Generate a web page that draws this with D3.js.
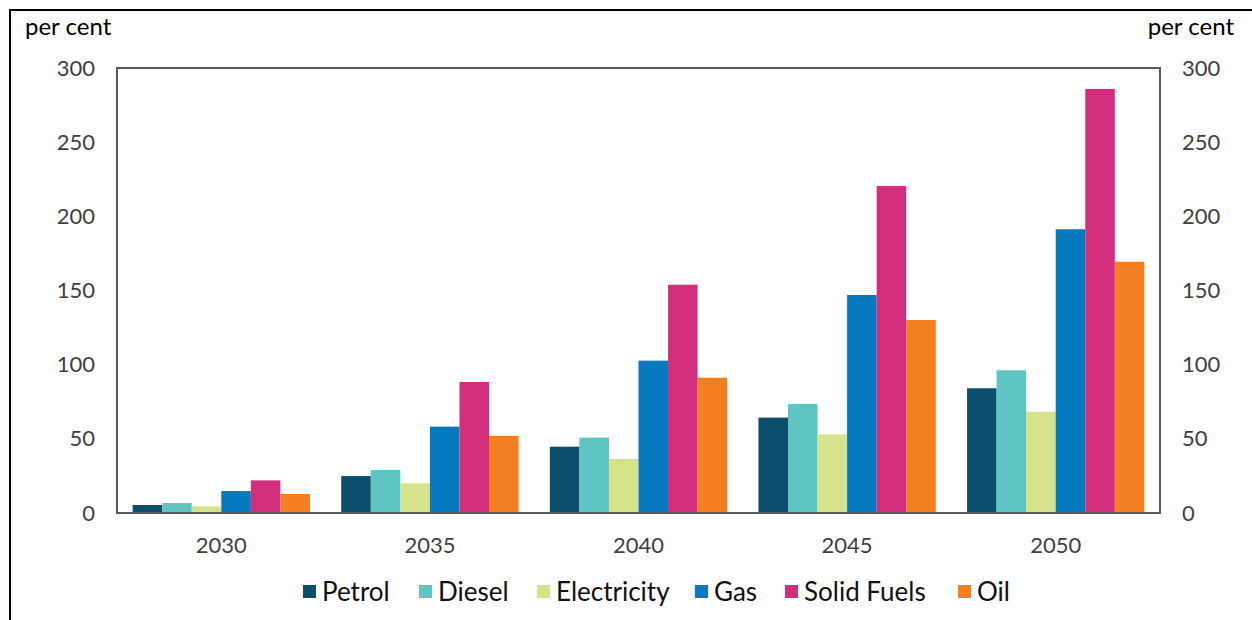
<!DOCTYPE html>
<html>
<head>
<meta charset="utf-8">
<script src="https://cdn.jsdelivr.net/npm/d3@7"></script>
<style>
  html, body { margin: 0; padding: 0; background: #fff; }
  svg { display: block; }
</style>
</head>
<body>
<svg id="chart" width="1252" height="620"></svg>
<script>
// Years on the category axis
const years = ["2030", "2035", "2040", "2045", "2050"];
// Fuel series
const series = ["Petrol", "Diesel", "Electricity", "Gas", "Solid Fuels", "Oil"];
const colors = ["#0b4f6c", "#5ec5c2", "#d5e38a", "#0679c1", "#d22e7b", "#f47f20"];
// Values per series (per cent), one entry per year
const petrol      = [5.4, 24.9, 44.7, 64.3, 84.1];
const diesel      = [6.7, 29.0, 50.8, 73.5, 96.2];
const electricity = [4.5, 20.0, 36.4, 53.0, 68.3];
const gas         = [14.8, 58.2, 102.7, 147.0, 191.3];
const solidFuels  = [22.0, 88.3, 153.9, 220.4, 285.9];
const oil         = [12.8, 51.9, 91.2, 130.1, 169.4];
const yTicks = [0, 50, 100, 150, 200, 250, 300];

const values = [petrol, diesel, electricity, gas, solidFuels, oil];
const rows = years.map((yr, i) => ({
  year: yr,
  bars: series.map((s, j) => ({ key: s, value: values[j][i], color: colors[j] }))
}));

const svg = d3.select("#chart");
const font = "Lato, 'Open Sans', sans-serif";

// Outer frame (top and left edges visible)
svg.append("rect")
  .attr("x", 10).attr("y", 10)
  .attr("width", 1300).attr("height", 700)
  .attr("fill", "none").attr("stroke", "#000").attr("stroke-width", 2);

const plot = { left: 117, right: 1160, top: 68, bottom: 513 };

const x0 = d3.scaleBand().domain(years)
  .range([plot.left, plot.right])
  .paddingInner(0.15).paddingOuter(0.075);
const x1 = d3.scaleBand().domain(series).range([0, x0.bandwidth()]);
const y = d3.scaleLinear().domain([0, 300]).range([plot.bottom, plot.top]);

// Bars
svg.append("g").selectAll("g")
  .data(rows).join("g")
  .attr("transform", d => `translate(${x0(d.year)},0)`)
  .selectAll("rect")
  .data(d => d.bars).join("rect")
  .attr("x", d => x1(d.key))
  .attr("y", d => y(d.value))
  .attr("width", x1.bandwidth())
  .attr("height", d => y(0) - y(d.value))
  .attr("fill", d => d.color);

// Plot frame
svg.append("rect")
  .attr("x", plot.left).attr("y", plot.top)
  .attr("width", plot.right - plot.left).attr("height", plot.bottom - plot.top)
  .attr("fill", "none").attr("stroke", "#595959").attr("stroke-width", 2);

// Left axis
const yLeft = svg.append("g")
  .attr("transform", `translate(${plot.left},0)`)
  .call(d3.axisLeft(y).tickValues(yTicks).tickSize(0).tickPadding(22));
yLeft.select(".domain").remove();
yLeft.selectAll("text")
  .attr("font-family", font).attr("font-size", 22).attr("fill", "#404040");

// Right axis
const yRight = svg.append("g")
  .attr("transform", `translate(${plot.right},0)`)
  .call(d3.axisRight(y).tickValues(yTicks).tickSize(0).tickPadding(22));
yRight.select(".domain").remove();
yRight.selectAll("text")
  .attr("font-family", font).attr("font-size", 22).attr("fill", "#404040");

// Category axis
const xAxis = svg.append("g")
  .attr("transform", `translate(0,${plot.bottom})`)
  .call(d3.axisBottom(x0).tickSize(0).tickPadding(24));
xAxis.select(".domain").remove();
xAxis.selectAll("text")
  .attr("font-family", font).attr("font-size", 22).attr("fill", "#404040");

// Unit labels
svg.append("text").text("per cent")
  .attr("x", 25).attr("y", 35)
  .attr("font-family", font).attr("font-size", 24).attr("fill", "#000");
svg.append("text").text("per cent")
  .attr("x", 1234).attr("y", 35).attr("text-anchor", "end")
  .attr("font-family", font).attr("font-size", 24).attr("fill", "#000");

// Legend
const legendX = [303, 419, 537, 695, 785, 958];
const legend = svg.append("g").selectAll("g")
  .data(series).join("g")
  .attr("transform", (d, i) => `translate(${legendX[i]},592)`);
legend.append("rect")
  .attr("x", 0).attr("y", -7).attr("width", 13).attr("height", 13)
  .attr("fill", (d, i) => colors[i]);
legend.append("text").text(d => d)
  .attr("x", 19).attr("y", 9)
  .attr("font-family", font).attr("font-size", 26).attr("fill", "#111");
</script>
</body>
</html>
